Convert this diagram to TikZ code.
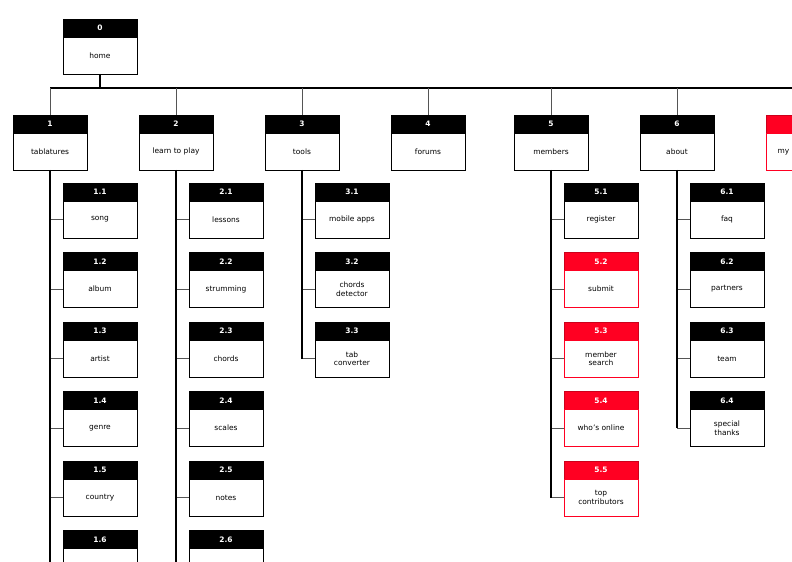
\documentclass[tikz,border=0pt]{standalone}
\usepackage{fontspec}
\setmainfont{DejaVu Sans}
\usetikzlibrary{positioning}
\definecolor{sitered}{HTML}{FF0022}
\definecolor{linkgray}{HTML}{555555}
\tikzset{
  hdr/.style={fill=#1, draw=#1!80!black, text=white, font=\fontsize{7.5}{9}\selectfont\bfseries,
    minimum width=74bp, minimum height=18bp, inner sep=0pt, outer sep=0pt},
  body/.style={fill=white, draw=#1, line width=0.8pt, font=\fontsize{7.5}{8.5}\selectfont, align=center,
    minimum width=74bp, minimum height=37bp, inner sep=0pt, outer sep=0pt},
  trunk/.style={line width=1.4pt, black},
  stub/.style={line width=0.8pt, linkgray},
}
\newcommand{\pagebox}[6]{%
  \node [hdr=#6] (h#1) at ({#2},{#3}) {#4};
  \node [body=#6, below=0pt of h#1] (b#1) {#5};
}
\begin{document}
\begin{tikzpicture}[x=1bp, y=-1bp]
\useasboundingbox (0,0) rectangle (792,562);
\clip (0,0) rectangle (792,562);

% home
\pagebox{0}{100}{28}{0}{home}{black}
\coordinate (busL) at (50,88);
\coordinate (busR) at (792,88);
\draw [trunk] (b0.south) -- (b0.south |- busL);
\draw [trunk] (busL) -- (busR);

% top level
\foreach \p/\x/\t in {1/50/tablatures, 2/176/learn to play, 3/302/tools, 4/428/forums, 5/551/members, 6/677/about}{
  \pagebox{\p}{\x}{124}{\p}{\t}{black}
  \draw [stub] (h\p.north |- busL) -- (h\p.north);
}
\pagebox{7}{803}{124}{}{}{sitered}
\node [font=\fontsize{7.5}{8.5}\selectfont, anchor=west] (t7) at (774,152) {my};
\draw [stub] (h7.north |- busL) -- (h7.north);

% second level
\foreach \t [count=\i] in {song, album, artist, genre, country, {}}{
  \pagebox{1\i}{100}{192+69.5*(\i-1)}{1.\i}{\t}{black}
  \draw [stub] (b1.south |- b1\i.west) -- (b1\i.west);
}
\foreach \t [count=\i] in {lessons, strumming, chords, scales, notes, {}}{
  \pagebox{2\i}{226}{192+69.5*(\i-1)}{2.\i}{\t}{black}
  \draw [stub] (b2.south |- b2\i.west) -- (b2\i.west);
}
\foreach \t [count=\i] in {mobile apps, {chords\\detector}, {tab\\converter}}{
  \pagebox{3\i}{352}{192+69.5*(\i-1)}{3.\i}{\t}{black}
  \draw [stub] (b3.south |- b3\i.west) -- (b3\i.west);
}
\pagebox{51}{601}{192}{5.1}{register}{black}
\foreach \t [count=\i from 2] in {submit, {member\\search}, who's online, {top\\contributors}}{
  \pagebox{5\i}{601}{192+69.5*(\i-1)}{5.\i}{\t}{sitered}
}
\foreach \i in {1,...,5}{
  \draw [stub] (b5.south |- b5\i.west) -- (b5\i.west);
}
\foreach \t [count=\i] in {faq, partners, team, {special\\thanks}}{
  \pagebox{6\i}{727}{192+69.5*(\i-1)}{6.\i}{\t}{black}
  \draw [stub] (b6.south |- b6\i.west) -- (b6\i.west);
}

% trunks
\coordinate (end1) at (50,562);
\coordinate (end2) at (176,562);
\draw [trunk] (b1.south) -- (end1);
\draw [trunk] (b2.south) -- (end2);
\draw [trunk] (b3.south) -- (b3.south |- b33.west);
\draw [trunk] (b5.south) -- (b5.south |- b55.west);
\draw [trunk] (b6.south) -- (b6.south |- b64.west);
\end{tikzpicture}
\end{document}
